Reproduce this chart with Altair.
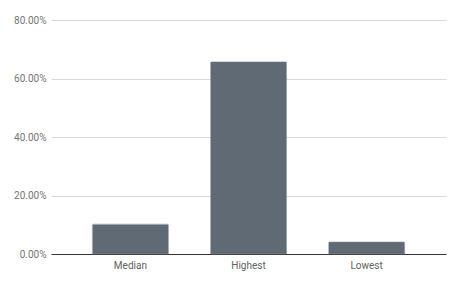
import altair as alt
import pandas as pd

categories = ["Median", "Highest", "Lowest"]
values = [0.102, 0.657, 0.041]

df = pd.DataFrame({"category": categories, "value": values})

chart = alt.Chart(df).mark_bar(color="#5f6a74", stroke="#7c8791", strokeWidth=0.5, cornerRadiusTopLeft=1, cornerRadiusTopRight=1).encode(
    x=alt.X("category:N", sort=categories, title=None,
            scale=alt.Scale(paddingInner=0.356, paddingOuter=0.35),
            axis=alt.Axis(labelAngle=0, labelFont="Roboto", labelFontSize=10, labelColor="#5f5f5f",
                          domainColor="#333333", domainWidth=1, ticks=False, labelPadding=6, grid=False)),
    y=alt.Y("value:Q", title=None,
            scale=alt.Scale(domain=[0, 0.8], nice=False),
            axis=alt.Axis(format=".2%", values=[0, 0.2, 0.4, 0.6, 0.8], labelFont="Roboto", labelFontSize=10,
                          labelColor="#757575", domain=False, ticks=False, labelPadding=5,
                          gridColor="#d9d9d9", gridWidth=1)),
).properties(
    width=395, height=234,
    background="white",
    autosize=alt.AutoSizeParams(type="none"),
    padding={"left": 51, "top": 20, "right": 14, "bottom": 30},
).configure_view(stroke=None, strokeWidth=0)

chart.save("out.html", embed_options={"renderer": "svg", "actions": False})
